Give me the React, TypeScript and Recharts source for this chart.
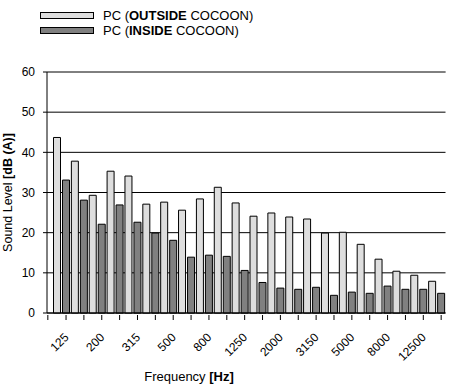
import React from 'react';
import { BarChart, Bar, XAxis, YAxis, CartesianGrid, ReferenceLine, Legend } from 'recharts';

const frequencies = ['125', '160', '200', '250', '315', '400', '500', '630', '800', '1000', '1250', '1600', '2000', '2500', '3150', '4000', '5000', '6300', '8000', '10000', '12500', '16000'];
const outsideCocoon = [43.7, 37.8, 29.3, 35.3, 34.1, 27.1, 27.6, 25.6, 28.4, 31.3, 27.4, 24.1, 24.9, 23.9, 23.4, 19.9, 20.1, 17.1, 13.4, 10.4, 9.4, 7.9];
const insideCocoon = [33.1, 28.1, 22.1, 26.9, 22.6, 19.9, 18.1, 13.9, 14.4, 14.1, 10.6, 7.6, 6.2, 5.9, 6.4, 4.4, 5.2, 4.9, 6.7, 5.9, 5.9, 4.9];
const yTicks = [0, 10, 20, 30, 40, 50, 60];

const data = frequencies.map((f, i) => ({ freq: f, outside: outsideCocoon[i], inside: insideCocoon[i] }));

const FONT = "Arial, 'Liberation Sans', sans-serif";
const LIGHT = '#DEDEDE';
const DARK = '#808080';

const XTick = (props: any) => {
  const { x, y, payload, index } = props;
  const ax = x + 8;
  const ay = y + 23;
  return (
    <g>
      {index === 0 && <line x1={x - 13.6} x2={x - 13.6} y1={y} y2={y + 5} stroke="#000" />}
      <line x1={x + 4.6} x2={x + 4.6} y1={y} y2={y + 5} stroke="#000" />
      {index % 2 === 0 && (
        <text x={ax} y={ay} textAnchor="end" fontSize={12} fontFamily={FONT} fill="#000" transform={`rotate(-45, ${ax}, ${ay})`}>
          {payload.value}
        </text>
      )}
    </g>
  );
};

const XTitle = () => (
  <text x={189} y={381} textAnchor="middle" fontSize={13} fontFamily={FONT} fill="#000">
    Frequency <tspan fontWeight="bold">[Hz]</tspan>
  </text>
);

const YTitle = (props: any) => {
  const vb = props.viewBox || {};
  const cy = (vb.y || 72) + (vb.height || 241) / 2;
  const cx = 12;
  return (
    <text x={cx} y={cy} textAnchor="middle" fontSize={12.5} fontFamily={FONT} fill="#000" transform={`rotate(-90, ${cx}, ${cy})`}>
      Sound Level <tspan fontWeight="bold">[dB (A)]</tspan>
    </text>
  );
};

const LegendContent = () => (
  <svg width={300} height={45} style={{ display: 'block' }}>
    <rect x={40.5} y={12.5} width={53} height={6} fill={LIGHT} stroke="#000" />
    <text x={103} y={20} fontSize={13} fontFamily={FONT} fill="#000">
      PC (<tspan fontWeight="bold">OUTSIDE</tspan> COCOON)
    </text>
    <rect x={40.5} y={27.5} width={53} height={6} fill={DARK} stroke="#000" />
    <text x={103} y={35} fontSize={13} fontFamily={FONT} fill="#000">
      PC (<tspan fontWeight="bold">INSIDE</tspan> COCOON)
    </text>
  </svg>
);

export default function App() {
  return (
    <div>
      <style>{'body{margin:0;background:#fff;}'}</style>
      <BarChart
        width={449}
        height={389}
        data={data}
        margin={{ top: 72, right: 3.5, left: 0, bottom: 0 }}
        barCategoryGap={0}
        barGap={2}
        barSize={7}
      >
        <CartesianGrid vertical={false} stroke="#000" strokeWidth={1} />
        <XAxis
          dataKey="freq"
          interval={0}
          height={76}
          tickSize={0}
          tickLine={false}
          axisLine={{ stroke: '#000' }}
          padding={{ left: 5.5, right: 0 }}
          tick={<XTick />}
          label={<XTitle />}
        />
        <YAxis
          domain={[0, 60]}
          ticks={yTicks}
          width={47}
          tickSize={4}
          tickMargin={8}
          tickLine={{ stroke: '#000' }}
          axisLine={{ stroke: '#000' }}
          tick={{ fontSize: 12, fontFamily: FONT, fill: '#000' }}
          label={<YTitle />}
        />
        <YAxis yAxisId="r" orientation="right" width={0} tick={false} tickLine={false} axisLine={{ stroke: '#808080' }} />
        <ReferenceLine y={60} stroke="#808080" />
        <Legend
          layout="horizontal"
          verticalAlign="middle"
          align="center"
          wrapperStyle={{ top: 0, left: 0, width: 300, height: 45 }}
          content={<LegendContent />}
        />
        <Bar dataKey="outside" fill={LIGHT} stroke="#000" strokeWidth={1} isAnimationActive={false} />
        <Bar dataKey="inside" fill={DARK} stroke="#000" strokeWidth={1} isAnimationActive={false} />
      </BarChart>
    </div>
  );
}
